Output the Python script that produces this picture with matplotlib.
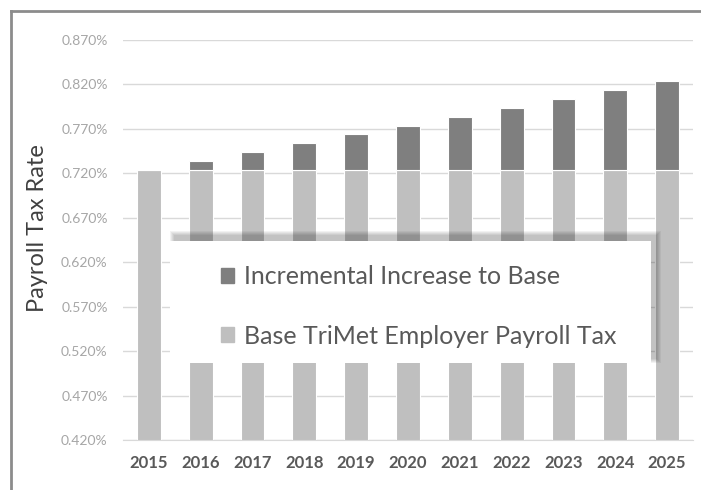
import matplotlib
matplotlib.use("Agg")
from matplotlib import pyplot as plt
from matplotlib.patches import Rectangle, Patch
from matplotlib.lines import Line2D
import numpy as np

plt.rcParams['font.family'] = ['Lato', 'DejaVu Sans']

years = ["2015", "2016", "2017", "2018", "2019", "2020",
         "2021", "2022", "2023", "2024", "2025"]
base_rate = [0.7237] * 11
increment = [0.0, 0.01, 0.02, 0.03, 0.04, 0.05, 0.06, 0.07, 0.08, 0.09, 0.10]
y_ticks = [0.42, 0.47, 0.52, 0.57, 0.62, 0.67, 0.72, 0.77, 0.82, 0.87]

W, H = 701, 490
fig = plt.figure(figsize=(W / 100, H / 100), dpi=100)
ax = fig.add_axes([123 / W, 1 - 440 / H, 570 / W, 400 / H])

x = np.arange(len(years))
ax.bar(x, base_rate, width=0.46, color='#bfbfbf', edgecolor='white', linewidth=0.8, zorder=2)
ax.bar(x, increment, bottom=base_rate, width=0.46, color='#7f7f7f',
       edgecolor='white', linewidth=0.8, zorder=2)

ax.set_ylim(0.42, 0.87)
ax.set_xlim(-0.5, len(years) - 0.5)
ax.set_yticks(y_ticks)
ax.set_yticklabels([f"{v:.3f}%" for v in y_ticks], fontsize=10, color='#a6a6a6')
ax.set_xticks(x)
ax.set_xticklabels(years, fontsize=12, fontweight='bold', color='#595959')
ax.tick_params(axis='both', length=0)
ax.tick_params(axis='x', pad=11)
ax.tick_params(axis='y', pad=11)
ax.grid(axis='y', color='#d9d9d9', linewidth=1, zorder=0)
ax.set_axisbelow(True)
for s in ['top', 'right', 'left']:
    ax.spines[s].set_visible(False)
ax.spines['bottom'].set_color('#d9d9d9')

fig.text(38 / W, 1 - 228 / H, "Payroll Tax Rate", rotation=90, fontsize=17,
         color='#404040', ha='center', va='center')

# outer frame (top and left only)
fig.add_artist(Line2D([11 / W, 1], [1 - 11 / H, 1 - 11 / H], color='#8c8c8c', lw=2))
fig.add_artist(Line2D([11 / W, 11 / W], [0, 1 - 11 / H], color='#8c8c8c', lw=2))

# legend box with soft shadow (offset up and right)
bx0, by0, bw, bh = 170, 241, 481, 122
sx, sy = 5, -5
for k in range(5, 0, -1):
    ax.add_patch(Rectangle(((bx0 + sx - k) / W, 1 - (by0 + sy + bh + k) / H),
                           (bw + 2 * k) / W, (bh + 2 * k) / H, transform=fig.transFigure,
                           facecolor='black', alpha=0.05, edgecolor='none',
                           clip_on=False, zorder=4))
ax.add_patch(Rectangle((bx0 / W, 1 - (by0 + bh) / H), bw / W, bh / H,
                       transform=fig.transFigure, facecolor='white',
                       edgecolor='none', clip_on=False, zorder=4.5))

handles = [Patch(color='#7f7f7f'), Patch(color='#bfbfbf')]
labels = ["Incremental Increase to Base", "Base TriMet Employer Payroll Tax"]
leg = ax.legend(handles, labels, loc='upper left', bbox_to_anchor=(208 / W, 1 - 253 / H),
                bbox_transform=fig.transFigure, frameon=False, fontsize=18,
                handlelength=0.55, handleheight=0.55, handletextpad=0.4,
                labelspacing=1.45, borderpad=0)
for t in leg.get_texts():
    t.set_color('#595959')
leg.set_zorder(6)

fig.savefig("out.png", dpi=100)
